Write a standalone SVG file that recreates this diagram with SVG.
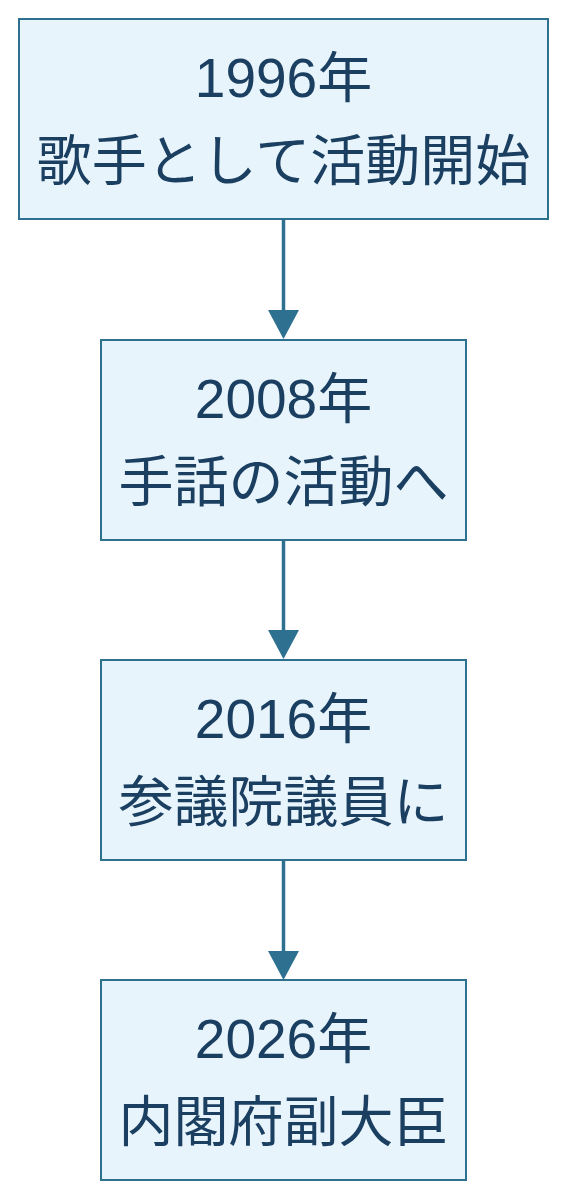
<svg xmlns="http://www.w3.org/2000/svg" width="569" height="1200" viewBox="0 0 569 1200">
<style>
.box{fill:#e8f4fc;stroke:#2e7090;stroke-width:2}
.t{font-family:"Liberation Sans","Noto Sans CJK JP",sans-serif;font-size:55px;fill:#1b3f60;text-anchor:middle}
.edge{stroke:#2e7090;stroke-width:3.5;fill:none}
.head{fill:#2e7090}
</style>
<rect width="569" height="1200" fill="#ffffff"/>
<g id="connectors">
<line class="edge" x1="283.5" y1="219" x2="283.5" y2="312"/>
<polygon class="head" points="268,310 299,310 283.5,339"/>
<line class="edge" x1="283.5" y1="540" x2="283.5" y2="632"/>
<polygon class="head" points="268,630 299,630 283.5,659"/>
<line class="edge" x1="283.5" y1="860" x2="283.5" y2="953"/>
<polygon class="head" points="268,951 299,951 283.5,980"/>
</g>
<g id="node1">
<rect class="box" x="19" y="19" width="529" height="200"/>
<text class="t" x="283.5" y="97">1996年</text>
<text class="t" x="283.5" y="180">歌手として活動開始</text>
</g>
<g id="node2">
<rect class="box" x="101" y="340" width="365" height="200"/>
<text class="t" x="283.5" y="418">2008年</text>
<text class="t" x="283.5" y="501">手話の活動へ</text>
</g>
<g id="node3">
<rect class="box" x="101" y="660" width="365" height="200"/>
<text class="t" x="283.5" y="738">2016年</text>
<text class="t" x="283.5" y="821">参議院議員に</text>
</g>
<g id="node4">
<rect class="box" x="101" y="980" width="365" height="200"/>
<text class="t" x="283.5" y="1058">2026年</text>
<text class="t" x="283.5" y="1141">内閣府副大臣</text>
</g>
</svg>
